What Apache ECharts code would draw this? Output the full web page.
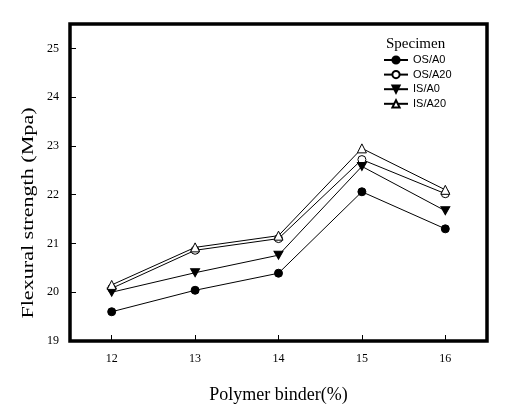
<!DOCTYPE html>
<html><head><meta charset="utf-8">
<script src="https://cdn.jsdelivr.net/npm/echarts@6/dist/echarts.min.js"></script>
<style>html,body{margin:0;padding:0;background:#fff}#c{width:519px;height:409px}</style>
</head><body><div id="c"></div>
<script>
const categories = ['12', '13', '14', '15', '16'];
const osA0  = [19.60, 20.04, 20.39, 22.06, 21.30];
const osA20 = [20.08, 20.86, 21.10, 22.72, 22.02];
const isA0  = [20.00, 20.40, 20.76, 22.58, 21.67];
const isA20 = [20.15, 20.92, 21.16, 22.95, 22.10];
const yTicks = [19, 20, 21, 22, 23, 24, 25];
const seriesNames = ['OS/A0', 'OS/A20', 'IS/A0', 'IS/A20'];
const xTitle = 'Polymer binder(%)';
const yTitle = 'Flexural strength (Mpa)';
const legendTitle = 'Specimen';

const serif = '"Liberation Serif","Times New Roman",serif';
const sans = '"Liberation Sans",Arial,sans-serif';
const downTri = 'path://M0,0L10,0L5,9Z';

function mk(name, data, symbol, size, filled) {
  return {
    name: name, type: 'line', data: data, symbol: symbol, symbolSize: size,
    showSymbol: true, silent: true,
    lineStyle: { color: '#000', width: 1 },
    itemStyle: { color: filled ? '#000' : '#fff', borderColor: '#000', borderWidth: 1 },
    emphasis: { disabled: true }
  };
}

const chart = echarts.init(document.getElementById('c'), null, { renderer: 'canvas' });
chart.setOption({
  animation: false,
  backgroundColor: '#fff',
  title: {
    text: legendTitle, left: 386, top: 37, padding: 0,
    textStyle: { fontFamily: serif, fontSize: 15, fontWeight: 'normal', color: '#000' }
  },
  legend: {
    orient: 'vertical', left: 383, top: 54.5, padding: 0,
    itemWidth: 24, itemHeight: 9, itemGap: 3.6,
    textStyle: { fontFamily: sans, fontSize: 11, color: '#000' },
    data: seriesNames
  },
  grid: {
    left: 70, right: 32, top: 24, bottom: 66.5,
    show: true, borderColor: '#000', borderWidth: 3.5, backgroundColor: 'transparent'
  },
  xAxis: {
    type: 'category', data: categories, boundaryGap: true,
    axisLine: { show: false },
    axisTick: { show: true, alignWithLabel: true, inside: true, length: 6, lineStyle: { color: '#000', width: 1 } },
    axisLabel: { fontFamily: serif, fontSize: 12, color: '#000', margin: 12 },
    splitLine: { show: false },
    name: xTitle, nameLocation: 'middle', nameGap: 45,
    nameTextStyle: { fontFamily: serif, fontSize: 18, color: '#000' }
  },
  yAxis: {
    type: 'value', min: 19, max: 25.5, interval: 1,
    axisLine: { show: false },
    axisTick: { show: true, inside: true, length: 6, customValues: yTicks, lineStyle: { color: '#000', width: 1 } },
    axisLabel: { fontFamily: serif, fontSize: 12, color: '#000', margin: 11, customValues: yTicks },
    splitLine: { show: false }
  },
  graphic: [{
    type: 'text', x: 29, y: 213, rotation: Math.PI / 2, scaleX: 1.3, scaleY: 1, silent: true,
    style: { text: yTitle, font: 'normal 400 17px "Liberation Serif", serif', fill: '#000', align: 'center', verticalAlign: 'middle' }
  }],
  series: [
    mk(seriesNames[0], osA0, 'circle', 8, true),
    mk(seriesNames[1], osA20, 'circle', 8, false),
    mk(seriesNames[2], isA0, downTri, [9, 8], true),
    mk(seriesNames[3], isA20, 'triangle', 9, false)
  ]
});
</script>
</body></html>
